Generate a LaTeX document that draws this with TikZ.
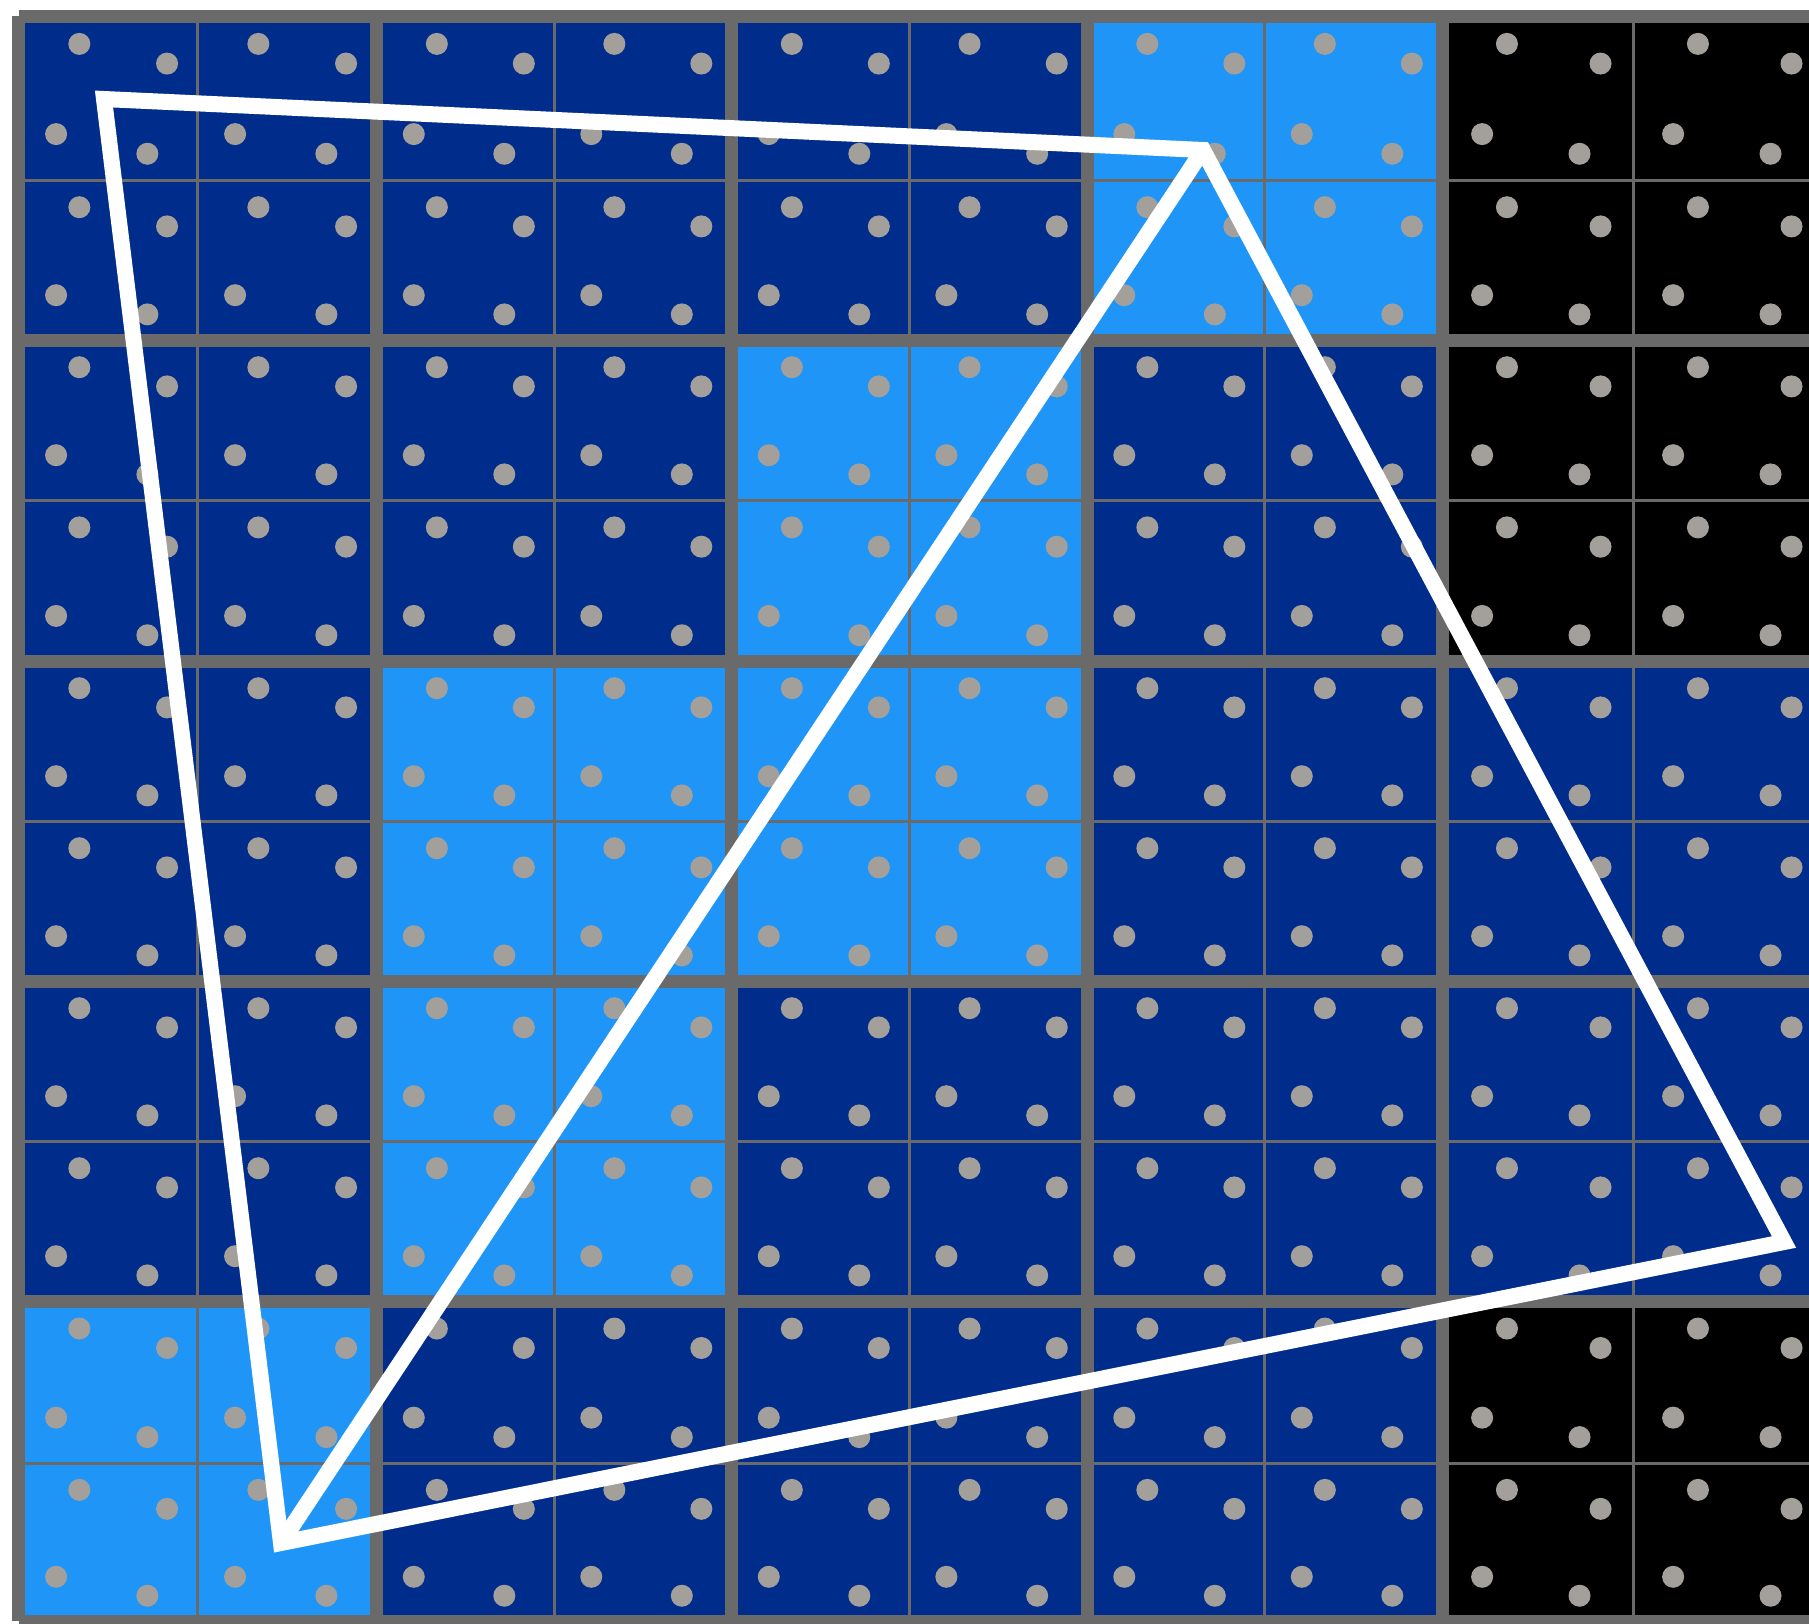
\documentclass[tikz,border=0pt]{standalone}
\usepackage{xcolor}
\definecolor{pixdark}{HTML}{002C8C}
\definecolor{pixlight}{HTML}{1F95F8}
\definecolor{pixblack}{HTML}{000000}
\definecolor{pixgrid}{HTML}{6A6A6A}
\definecolor{pixsample}{HTML}{A39F9B}

\begin{document}
\begin{tikzpicture}[
  x=0.01cm, y=-0.01cm,
  subline/.style={draw=pixgrid, line width=0.03cm},
  bigline/.style={draw=pixgrid, line width=0.13cm},
  sample/.style={fill=pixsample},
  quadline/.style={draw=white, line width=0.16cm, line join=miter},
]

\fill[white] (0,0) rectangle (1809,1623);
\useasboundingbox (0,0) rectangle (1809,1623);
\clip (0,0) rectangle (1809,1623);

% ---- sub-pixel boundaries (px) ----
\def\subx{{18.5,197.5,376.5,554,731.5,909,1087,1264.5,1442,1633,1824}}
\def\suby{{16,180,340,500,661,821,981,1141,1301,1463,1621}}

% ---- pixel colours ----
\fill[pixdark] (18.5,16) rectangle (1824,1621);
\foreach \c/\r/\col in {3/0/pixlight, 2/1/pixlight, 1/2/pixlight, 2/2/pixlight,
                        1/3/pixlight, 0/4/pixlight, 4/0/pixblack, 4/1/pixblack, 4/4/pixblack}{
  \pgfmathtruncatemacro\ia{2*\c}
  \pgfmathtruncatemacro\ib{2*\c+2}
  \pgfmathtruncatemacro\ja{2*\r}
  \pgfmathtruncatemacro\jb{2*\r+2}
  \pgfmathsetmacro\xa{\subx[\ia]}
  \pgfmathsetmacro\xb{\subx[\ib]}
  \pgfmathsetmacro\ya{\suby[\ja]}
  \pgfmathsetmacro\yb{\suby[\jb]}
  \fill[\col] (\xa,\ya) rectangle (\xb,\yb);
}

% ---- thin sub-pixel lines ----
\foreach \i in {1,3,5,7,9}{
  \pgfmathsetmacro\xa{\subx[\i]}
  \pgfmathsetmacro\ya{\suby[\i]}
  \draw[subline] (\xa,16) -- (\xa,1621);
  \draw[subline] (18.5,\ya) -- (1824,\ya);
}

% ---- sample points, four per sub-pixel ----
\foreach \i in {0,...,9}{
  \foreach \j in {0,...,9}{
    \pgfmathtruncatemacro\ib{\i+1}
    \pgfmathtruncatemacro\jb{\j+1}
    \pgfmathsetmacro\xa{\subx[\i]}
    \pgfmathsetmacro\xb{\subx[\ib]}
    \pgfmathsetmacro\ya{\suby[\j]}
    \pgfmathsetmacro\yb{\suby[\jb]}
    \foreach \fx/\fy in {0.34/0.17, 0.83/0.29, 0.21/0.72, 0.72/0.84}
      \fill[sample] ({\xa+\fx*(\xb-\xa)},{\ya+\fy*(\yb-\ya)}) circle[radius=0.11cm];
  }
}

% ---- thick pixel lines ----
\foreach \i in {0,2,...,10}{
  \pgfmathsetmacro\xa{\subx[\i]}
  \pgfmathsetmacro\ya{\suby[\i]}
  \draw[bigline] (\xa,16) -- (\xa,1621);
  \draw[bigline] (18.5,\ya) -- (1824,\ya);
}

% ---- quad split into two triangles ----
\coordinate (qTL) at (104,99);
\coordinate (qTR) at (1203,150);
\coordinate (qR)  at (1784,1242);
\coordinate (qBL) at (281,1543);

\draw[quadline] (qTL) -- (qTR) -- (qR) -- (qBL) -- cycle;
\draw[quadline] (qTR) -- (qBL);

\end{tikzpicture}
\end{document}
